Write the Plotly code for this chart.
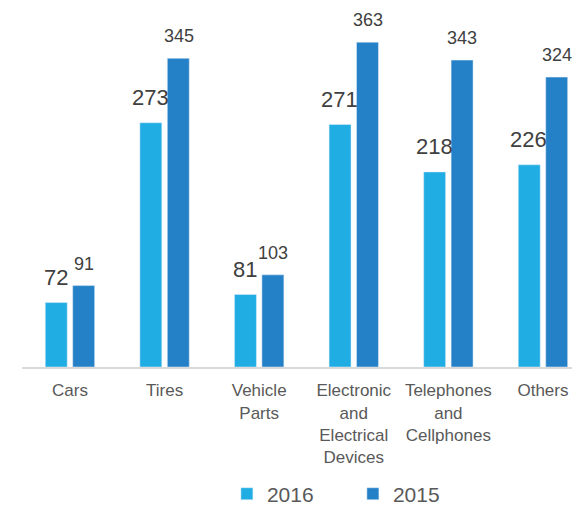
import plotly.graph_objects as go

categories = ["Cars", "Tires", "Vehicle<br>Parts", "Electronic<br>and<br>Electrical<br>Devices",
              "Telephones<br>and<br>Cellphones", "Others"]
values_2016 = [72, 273, 81, 271, 218, 226]
values_2015 = [91, 345, 103, 363, 343, 324]

color_2016 = "#1FADE4"
color_2015 = "#2581C7"

fig = go.Figure()
fig.add_trace(go.Bar(x=categories, y=values_2016, name="2016", marker_color=color_2016))
fig.add_trace(go.Bar(x=categories, y=values_2015, name="2015", marker_color=color_2015))

# value labels above the bars (2016 labels are a bit larger)
for cat, v in zip(categories, values_2016):
    fig.add_annotation(x=cat, y=v, text=str(v), showarrow=False, yanchor="bottom",
                       xshift=-14, yshift=11, font=dict(size=22, color="#404040"))
for cat, v in zip(categories, values_2015):
    fig.add_annotation(x=cat, y=v, text=str(v), showarrow=False, yanchor="bottom",
                       xshift=14, yshift=10, font=dict(size=18, color="#404040"))

fig.update_layout(
    width=580, height=505,
    margin=dict(l=14, r=0, t=2, b=146, autoexpand=False),
    paper_bgcolor="white", plot_bgcolor="white",
    font=dict(family="Liberation Sans, Arial, sans-serif", color="#595959"),
    barmode="group", bargap=0.42, bargroupgap=0.2,
    showlegend=True,
    legend=dict(orientation="h", x=0.362, xanchor="left", y=-0.356, yanchor="middle",
                font=dict(size=21, color="#595959"), itemwidth=30,
                entrywidth=81, entrywidthmode="pixels"),
)
fig.update_xaxes(range=[-0.507, 5.476], showline=True, linecolor="#D9D9D9", linewidth=2,
                 ticks="", ticklabelstandoff=7, tickfont=dict(size=17, color="#595959"),
                 showgrid=False, automargin=False)
fig.update_yaxes(range=[0, 399], visible=False, showgrid=False, zeroline=False)

fig.write_html("out.html")
